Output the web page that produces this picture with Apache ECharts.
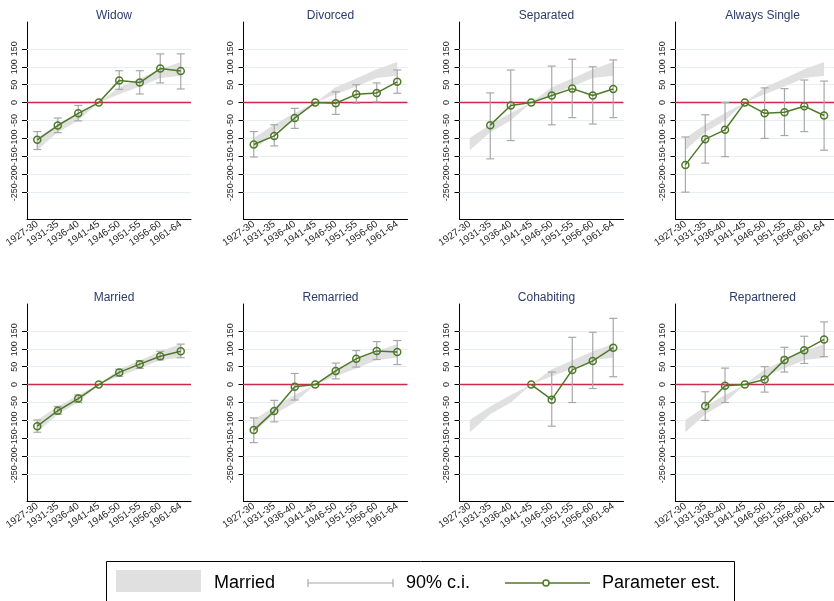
<!DOCTYPE html>
<html>
<head>
    <meta charset="utf-8">
    <title>Parameter estimates by cohort</title>
    <script src="https://cdn.jsdelivr.net/npm/echarts@6/dist/echarts.min.js"></script>
    <style>
        body { margin: 0; background: #fff; }
        #main { width: 834px; height: 601px; }
    </style>
</head>
<body>
<div id="main"></div>
<script type="text/javascript">
    var categories = ['1927-30', '1931-35', '1936-40', '1941-45', '1946-50', '1951-55', '1956-60', '1961-64'];
    var panelTitles = ['Widow', 'Divorced', 'Separated', 'Always Single', 'Married', 'Remarried', 'Cohabiting', 'Repartnered'];
    var yLabels = [-250, -200, -150, -100, -50, 0, 50, 100, 150];

    // married 90% band, shown in every panel
    var bandLow = [-133, -83, -50, 0, 23, 45, 69, 75];
    var bandHigh = [-99, -61, -29, 0, 43, 67, 93, 113];

    var widowEst = [-104, -64, -30, 0, 62, 56, 95, 88];
    var widowLow = [-131, -84, -51, null, 37, 24, 55, 38];
    var widowHigh = [-81, -43, -8, null, 89, 89, 136, 136];

    var divorcedEst = [-117, -93, -43, 0, -2, 23, 27, 58];
    var divorcedLow = [-152, -121, -72, null, -33, -2, 2, 26];
    var divorcedHigh = [-81, -62, -16, null, 30, 50, 55, 91];

    var separatedEst = [null, -63, -8, 0, 20, 39, 20, 38];
    var separatedLow = [null, -157, -106, null, -62, -42, -60, -42];
    var separatedHigh = [null, 27, 91, null, 102, 121, 100, 119];

    var singleEst = [-174, -102, -76, 0, -30, -27, -10, -36];
    var singleLow = [-250, -169, -151, null, -100, -92, -81, -133];
    var singleHigh = [-96, -34, 0, null, 41, 39, 63, 60];

    var marriedEst = [-116, -73, -39, 0, 34, 57, 79, 93];
    var marriedLow = [-133, -83, -50, null, 23, 45, 69, 75];
    var marriedHigh = [-99, -61, -29, null, 43, 67, 93, 113];

    var remarriedEst = [-127, -74, -6, 0, 38, 72, 94, 91];
    var remarriedLow = [-162, -104, -43, null, 16, 49, 70, 56];
    var remarriedHigh = [-93, -44, 31, null, 60, 95, 120, 123];

    var cohabEst = [null, null, null, 0, -42, 41, 66, 103];
    var cohabLow = [null, null, null, null, -116, -50, -11, 22];
    var cohabHigh = [null, null, null, null, 35, 132, 146, 185];

    var repartEst = [null, -60, -3, 0, 14, 69, 96, 126];
    var repartLow = [null, -100, -50, null, -21, 35, 59, 78];
    var repartHigh = [null, -20, 46, null, 50, 104, 135, 175];

    var panels = [
        [widowEst, widowLow, widowHigh],
        [divorcedEst, divorcedLow, divorcedHigh],
        [separatedEst, separatedLow, separatedHigh],
        [singleEst, singleLow, singleHigh],
        [marriedEst, marriedLow, marriedHigh],
        [remarriedEst, remarriedLow, remarriedHigh],
        [cohabEst, cohabLow, cohabHigh],
        [repartEst, repartLow, repartHigh]
    ];

    var FONT = '"Liberation Sans", Arial, sans-serif';
    var GREEN = '#4e7a27';
    var CI = '#a8a8a8';
    var BAND = '#e0e0e0';
    var colLeft = [27, 243.5, 459.5, 675.5];
    var rowTop = [22, 304];

    var grids = [], xAxes = [], yAxes = [], series = [], titles = [];

    for (var i = 0; i < 8; i++) {
        var col = i % 4, row = Math.floor(i / 4);
        grids.push({ left: colLeft[col], top: rowTop[row], width: 164, height: 197 });
        titles.push({
            text: panelTitles[i],
            left: colLeft[col] + 82,
            top: rowTop[row] - 17,
            textAlign: 'center',
            textStyle: { fontFamily: FONT, fontSize: 12, fontWeight: 'normal', color: '#2b3b6b' }
        });
        xAxes.push({
            type: 'category', gridIndex: i, data: categories, boundaryGap: true,
            axisLine: { onZero: false, lineStyle: { color: '#000', width: 1 } },
            axisTick: { alignWithLabel: true, length: 4, lineStyle: { color: '#000' } },
            axisLabel: { interval: 0, rotate: 35, fontSize: 10, margin: 4, color: '#222', fontFamily: FONT },
            splitLine: { show: false }
        });
        yAxes.push({
            type: 'value', gridIndex: i, min: -325, max: 225, interval: 25,
            axisLine: { show: true, lineStyle: { color: '#000', width: 1 } },
            axisTick: { show: true, length: 5, customValues: yLabels, lineStyle: { color: '#000' } },
            splitLine: { show: false },
            axisLabel: {
                rotate: 90, fontSize: 9, margin: 8, color: '#222', fontFamily: FONT,
                customValues: yLabels,
                formatter: function (v) { return yLabels.indexOf(v) >= 0 ? String(v) : ''; }
            }
        });

        var est = panels[i][0], lo = panels[i][1], hi = panels[i][2];
        var bandDiff = bandHigh.map(function (h, k) { return h - bandLow[k]; });
        var ciData = [];
        for (var k = 0; k < categories.length; k++) {
            if (lo[k] != null && hi[k] != null) ciData.push([k, lo[k], hi[k]]);
        }

        series.push({
            type: 'line', xAxisIndex: i, yAxisIndex: i, data: bandLow,
            stack: 'band' + i, stackStrategy: 'all', symbol: 'none', silent: true, z: 2,
            lineStyle: { opacity: 0 },
            markLine: {
                silent: true, symbol: 'none', z: 1, label: { show: false },
                lineStyle: { color: '#e6eef1', width: 1, type: 'solid' },
                data: yLabels.map(function (v) { return { yAxis: v }; })
            }
        });
        series.push({
            type: 'line', xAxisIndex: i, yAxisIndex: i, data: bandDiff,
            stack: 'band' + i, stackStrategy: 'all', symbol: 'none', silent: true, z: 2,
            lineStyle: { opacity: 0 },
            areaStyle: { color: BAND, opacity: 1 }
        });
        series.push({
            type: 'custom', xAxisIndex: i, yAxisIndex: i, data: ciData, silent: true, z: 4,
            encode: { x: 0, y: [1, 2] },
            renderItem: function (params, api) {
                var x = api.value(0);
                var a = api.coord([x, api.value(1)]);
                var b = api.coord([x, api.value(2)]);
                var w = 4;
                var st = { stroke: CI, lineWidth: 1.2 };
                return {
                    type: 'group',
                    children: [
                        { type: 'line', shape: { x1: a[0], y1: a[1], x2: b[0], y2: b[1] }, style: st },
                        { type: 'line', shape: { x1: a[0] - w, y1: a[1], x2: a[0] + w, y2: a[1] }, style: st },
                        { type: 'line', shape: { x1: b[0] - w, y1: b[1], x2: b[0] + w, y2: b[1] }, style: st }
                    ]
                };
            }
        });
        series.push({
            type: 'line', xAxisIndex: i, yAxisIndex: i, data: est, z: 5,
            symbol: 'circle', symbolSize: 7, silent: true,
            lineStyle: { color: GREEN, width: 1.5 },
            itemStyle: { color: 'rgba(255,255,255,0)', borderColor: GREEN, borderWidth: 1.5 },
            markLine: {
                silent: true, symbol: 'none', z: 3, label: { show: false },
                lineStyle: { color: '#cc2a4a', width: 1.3, type: 'solid' },
                data: [{ yAxis: 0 }]
            }
        });
    }

    // legend box drawn at the bottom
    var LY = 583;
    var LF = '18px ' + FONT;
    var legend = [
        { type: 'rect', shape: { x: 106.5, y: 561.5, width: 628, height: 50 }, style: { fill: '#fff', stroke: '#000', lineWidth: 1 } },
        { type: 'rect', shape: { x: 116, y: 570, width: 85, height: 22 }, style: { fill: BAND } },
        { type: 'text', x: 214, y: LY, style: { text: 'Married', fill: '#000', font: LF, textVerticalAlign: 'middle' } },
        { type: 'line', shape: { x1: 308, y1: LY, x2: 393, y2: LY }, style: { stroke: CI, lineWidth: 1.2 } },
        { type: 'line', shape: { x1: 308, y1: LY - 4, x2: 308, y2: LY + 4 }, style: { stroke: CI, lineWidth: 1.2 } },
        { type: 'line', shape: { x1: 393, y1: LY - 4, x2: 393, y2: LY + 4 }, style: { stroke: CI, lineWidth: 1.2 } },
        { type: 'text', x: 406, y: LY, style: { text: '90% c.i.', fill: '#000', font: LF, textVerticalAlign: 'middle' } },
        { type: 'line', shape: { x1: 505, y1: LY, x2: 590, y2: LY }, style: { stroke: GREEN, lineWidth: 1.5 } },
        { type: 'circle', shape: { cx: 546, cy: LY, r: 3 }, style: { fill: '#fff', stroke: GREEN, lineWidth: 1.5 } },
        { type: 'text', x: 602, y: LY, style: { text: 'Parameter est.', fill: '#000', font: LF, textVerticalAlign: 'middle' } }
    ];

    var option = {
        animation: false,
        backgroundColor: '#fff',
        title: titles,
        grid: grids,
        xAxis: xAxes,
        yAxis: yAxes,
        series: series,
        graphic: legend
    };

    var myChart = echarts.init(document.getElementById('main'));
    myChart.setOption(option);
</script>
</body>
</html>
